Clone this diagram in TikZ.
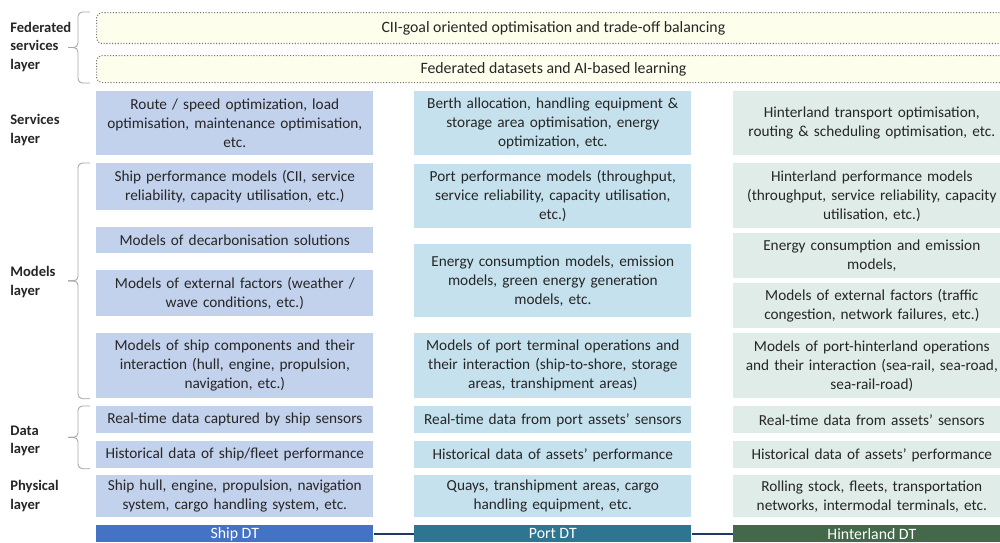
\documentclass[tikz,border=0pt]{standalone}
\usepackage{fontspec}
\setmainfont{Carlito}
\usetikzlibrary{positioning,calc}
\usepackage{xcolor}
\definecolor{TextGray}{RGB}{38,38,38}
\definecolor{ShipFill}{RGB}{194,209,236}
\definecolor{PortFill}{RGB}{196,225,237}
\definecolor{HinterFill}{RGB}{223,236,232}
\definecolor{FedFill}{RGB}{254,254,236}
\definecolor{FedBorder}{RGB}{115,115,115}
\definecolor{ShipDT}{RGB}{68,114,196}
\definecolor{PortDT}{RGB}{46,117,146}
\definecolor{HinterDT}{RGB}{67,104,74}
\definecolor{LinkNavy}{RGB}{31,56,100}
\tikzset{
  cell/.style={anchor=north west, inner xsep=0.05cm, inner ysep=0pt,
    text width=5.44cm, align=center, text=TextGray,
    font=\fontsize{8.7}{10.8}\selectfont},
  shipbox/.style={cell, fill=ShipFill},
  portbox/.style={cell, fill=PortFill},
  hinterbox/.style={cell, fill=HinterFill},
  fedbox/.style={anchor=north west, draw=FedBorder, densely dotted,
    line width=0.6pt, rounded corners=3pt, fill=FedFill,
    minimum width=18.28cm, inner sep=0pt, text=TextGray,
    font=\fontsize{9}{10.8}\selectfont},
  dtbox/.style={anchor=north west, minimum width=5.54cm,
    minimum height=0.34cm, inner sep=0pt, text=white,
    font=\fontsize{9}{10.8}\selectfont},
  layerlabel/.style={anchor=west, align=left, inner sep=0pt,
    text=TextGray, font=\bfseries\fontsize{8.3}{10.4}\selectfont},
  layerbrace/.style={draw=gray!70, line width=0.5pt, rounded corners=2.5pt},
  dtlink/.style={draw=LinkNavy, line width=1.2pt}
}

\begin{document}
\begin{tikzpicture}[x=0.02cm, y=-0.02cm]
  \useasboundingbox (0,0) rectangle (1000,542);
  \clip (0,0) rectangle (1000,542);

  % federated services layer
  \node[fedbox, minimum height=0.62cm] (fedgoal) at (96,12)
    {CII-goal oriented optimisation and trade-off balancing};
  \node[fedbox, minimum height=0.54cm] (fedlearn) at (96,55)
    {Federated datasets and AI-based learning};

  % layer labels
  \node[layerlabel] (fedlabel) at (10,47) {Federated\\services\\layer};
  \node[layerlabel] (srvlabel) at (10,130) {Services\\layer};
  \node[layerlabel] (modlabel) at (10,282) {Models\\layer};
  \node[layerlabel] (datlabel) at (10,441) {Data\\layer};
  \node[layerlabel] (phylabel) at (10,496) {Physical\\layer};

  % ship column
  \node[shipbox, minimum height=1.28cm] (shipsrv) at (96,91) {
    Route / speed optimization, load\\
    optimisation, maintenance optimisation,\\
    etc.
  };
  \node[shipbox, minimum height=0.94cm] (shipperf) at (96,163) {
    Ship performance models (CII, service\\
    reliability, capacity utilisation, etc.)
  };
  \node[shipbox, minimum height=0.52cm] (shipdecarb) at (96,227) {
    Models of decarbonisation solutions
  };
  \node[shipbox, minimum height=0.92cm] (shipext) at (96,270) {
    Models of external factors (weather /\\
    wave conditions, etc.)
  };
  \node[shipbox, minimum height=1.30cm] (shipcomp) at (96,333) {
    Models of ship components and their\\
    interaction (hull, engine, propulsion,\\
    navigation, etc.)
  };
  \node[shipbox, minimum height=0.54cm] (shiprt) at (96,406) {
    Real-time data captured by ship sensors
  };
  \node[shipbox, minimum height=0.54cm] (shiphist) at (96,441) {
    Historical data of ship/fleet performance
  };
  \node[shipbox, minimum height=0.84cm] (shipphys) at (96,475) {
    Ship hull, engine, propulsion, navigation\\
    system, cargo handling system, etc.
  };

  % port column
  \node[portbox, minimum height=1.28cm] (portsrv) at (414,91) {
    Berth allocation, handling equipment \&\\
    storage area optimisation, energy\\
    optimization, etc.
  };
  \node[portbox, minimum height=1.28cm] (portperf) at (414,164) {
    Port performance models (throughput,\\
    service reliability, capacity utilisation,\\
    etc.)
  };
  \node[portbox, minimum height=1.46cm] (portenergy) at (414,244) {
    Energy consumption models, emission\\
    models, green energy generation\\
    models, etc.
  };
  \node[portbox, minimum height=1.30cm] (portterm) at (414,333) {
    Models of port terminal operations and\\
    their interaction (ship-to-shore, storage\\
    areas, transhipment areas)
  };
  \node[portbox, minimum height=0.54cm] (portrt) at (414,406) {
    Real-time data from port assets’ sensors
  };
  \node[portbox, minimum height=0.54cm] (porthist) at (414,441) {
    Historical data of assets’ performance
  };
  \node[portbox, minimum height=0.84cm] (portphys) at (414,475) {
    Quays, transhipment areas, cargo\\
    handling equipment, etc.
  };

  % hinterland column
  \node[hinterbox, minimum height=1.28cm] (hintsrv) at (733,91) {
    Hinterland transport optimisation,\\
    routing \& scheduling optimisation, etc.
  };
  \node[hinterbox, minimum height=1.30cm] (hintperf) at (733,163) {
    Hinterland performance models\\
    (throughput, service reliability, capacity\\
    utilisation, etc.)
  };
  \node[hinterbox, minimum height=0.90cm] (hintenergy) at (733,233) {
    Energy consumption and emission\\
    models,
  };
  \node[hinterbox, minimum height=0.90cm] (hintext) at (733,283) {
    Models of external factors (traffic\\
    congestion, network failures, etc.)
  };
  \node[hinterbox, minimum height=1.30cm] (hintops) at (733,333) {
    Models of port-hinterland operations\\
    and their interaction (sea-rail, sea-road,\\
    sea-rail-road)
  };
  \node[hinterbox, minimum height=0.54cm] (hintrt) at (733,406) {
    Real-time data from assets’ sensors
  };
  \node[hinterbox, minimum height=0.54cm] (hinthist) at (733,441) {
    Historical data of assets’ performance
  };
  \node[hinterbox, minimum height=0.84cm] (hintphys) at (733,475) {
    Rolling stock, fleets, transportation\\
    networks, intermodal terminals, etc.
  };

  % digital twins
  \node[dtbox, fill=ShipDT] (shipdt) at (96,525) {Ship DT};
  \node[dtbox, fill=PortDT] (portdt) at (414,525) {Port DT};
  \node[dtbox, fill=HinterDT] (hintdt) at (733,525) {Hinterland DT};

  \draw[dtlink] (shipdt) -- (portdt);
  \draw[dtlink] (portdt) -- (hintdt);

  % braces
  \coordinate (fedmid) at ($(fedgoal.north west)!0.5!(fedlearn.south west)+(-0.36cm,0)$);
  \coordinate (modmid) at ($(shipperf.north west)!0.5!(shipcomp.south west)+(-0.36cm,0)$);
  \coordinate (datmid) at ($(shiprt.north west)!0.5!(shiphist.south west)+(-0.36cm,0)$);
  \draw[layerbrace] ([xshift=-0.12cm]fedgoal.north west) -| (fedmid) -- ++(-0.2cm,0);
  \draw[layerbrace] ([xshift=-0.12cm]fedlearn.south west) -| (fedmid) -- ++(-0.2cm,0);
  \draw[layerbrace] ([xshift=-0.12cm]shipperf.north west) -| (modmid) -- ++(-0.2cm,0);
  \draw[layerbrace] ([xshift=-0.12cm]shipcomp.south west) -| (modmid) -- ++(-0.2cm,0);
  \draw[layerbrace] ([xshift=-0.12cm]shiprt.north west) -| (datmid) -- ++(-0.2cm,0);
  \draw[layerbrace] ([xshift=-0.12cm]shiphist.south west) -| (datmid) -- ++(-0.2cm,0);
\end{tikzpicture}
\end{document}
